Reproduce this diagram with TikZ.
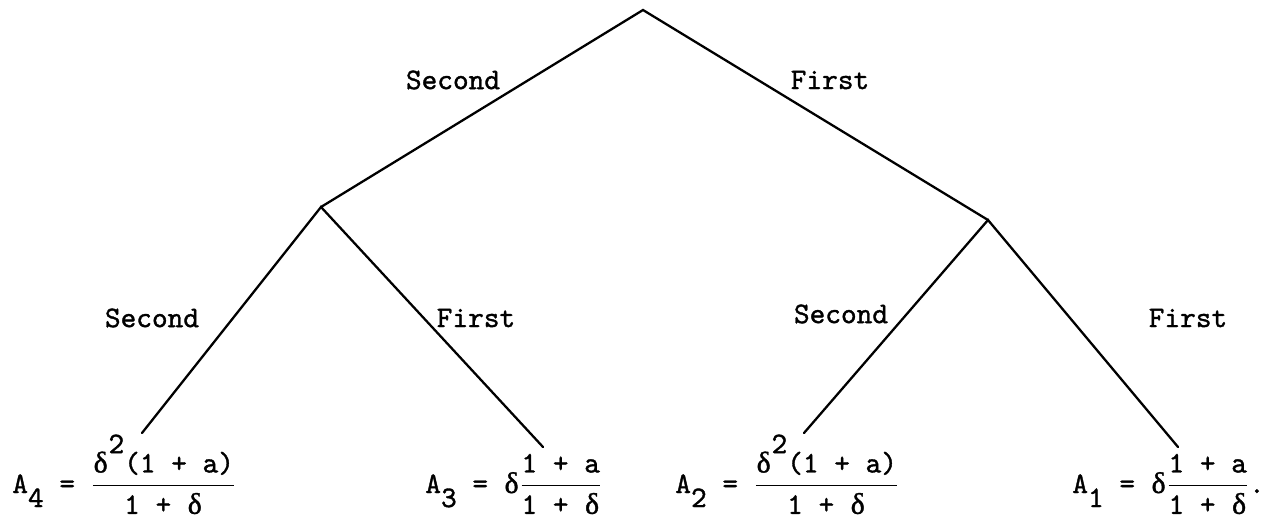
\documentclass[tikz,border=0pt]{standalone}
\usepackage{amsmath}
\usepackage{fontspec}
\setmonofont[FakeBold=1.2]{lmmono10-regular.otf}
\newfontfamily\grk[FakeBold=1.2]{Liberation Serif}
\usetikzlibrary{positioning}

\newcommand{\dlt}{\makebox[0.525em]{\grk δ}}
\newcommand{\lowr}[1]{\raisebox{-8pt}{#1}}
\newcommand{\upr}[1]{\raisebox{11pt}{#1}}

\begin{document}
\begin{tikzpicture}[
  x=0.02cm, y=-0.02cm,
  font=\fontsize{17}{20}\selectfont\ttfamily,
  every node/.style={align=center},
  branch/.style={line width=1.3pt, line cap=round},
  lbl/.style={inner sep=0pt},
  leaf/.style={anchor=base west, inner sep=0pt}
]
  \useasboundingbox (0,0) rectangle (1273,520);

  % tree points
  \coordinate (root) at (643,10);
  \coordinate (sec)  at (321,207);
  \coordinate (fst)  at (988,220);
  \coordinate (ss)   at (142,433);
  \coordinate (sf)   at (543,447);
  \coordinate (fs)   at (804,433);
  \coordinate (ff)   at (1178,447);

  \draw[branch] (sec) -- (root) -- (fst);
  \draw[branch] (ss) -- (sec) -- (sf);
  \draw[branch] (fs) -- (fst) -- (ff);

  % branch labels
  \node[lbl] (l1) at (453,80)  {Second};
  \node[lbl] (l2) at (830,80)  {First};
  \node[lbl] (l3) at (152,318) {Second};
  \node[lbl] (l4) at (476,318) {First};
  \node[lbl] (l5) at (841,314) {Second};
  \node[lbl] (l6) at (1188,318) {First};

  % pay-offs
  \node[leaf] (a4) at (12,493)   {A\lowr{4} = $\dfrac{\text{\dlt\upr{2}(1 + a)}}{\text{1 + \dlt}}$};
  \node[leaf] (a3) at (425,493)  {A\lowr{3} = \dlt$\dfrac{\text{1 + a}}{\text{1 + \dlt}}$};
  \node[leaf] (a2) at (675,493)  {A\lowr{2} = $\dfrac{\text{\dlt\upr{2}(1 + a)}}{\text{1 + \dlt}}$};
  \node[leaf] (a1) at (1072,493) {A\lowr{1} = \dlt$\dfrac{\text{1 + a}}{\text{1 + \dlt}}$.};
\end{tikzpicture}
\end{document}
